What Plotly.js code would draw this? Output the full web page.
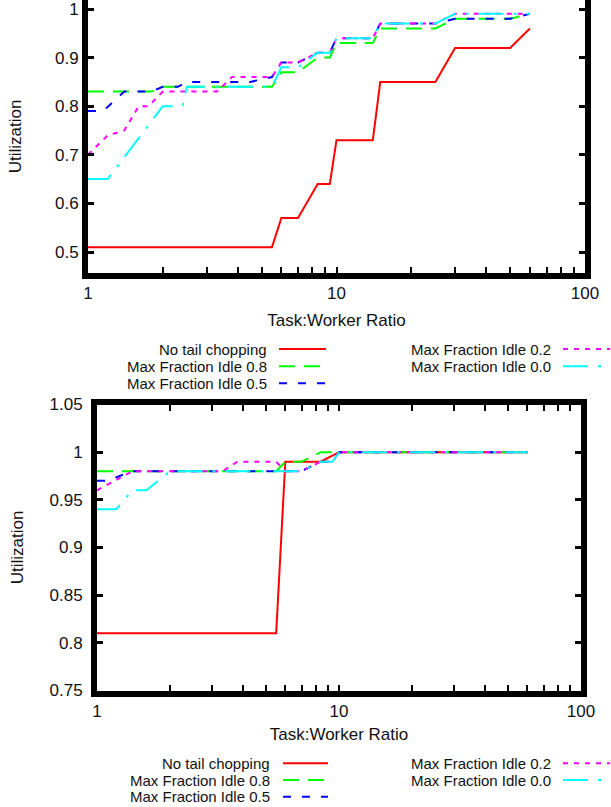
<!DOCTYPE html>
<html><head><meta charset="utf-8">
<script src="https://cdn.plot.ly/plotly-3.0.1.min.js"></script>
<style>html,body{margin:0;padding:0;background:#fff;} #chart{width:611px;height:807px;}</style>
</head><body><div id="chart"></div>
<script>
// ---------- data ----------
const seriesNames = ["No tail chopping", "Max Fraction Idle 0.8", "Max Fraction Idle 0.5", "Max Fraction Idle 0.2", "Max Fraction Idle 0.0"];
const xTickVals = [1, 2, 3, 4, 5, 6, 7, 8, 9, 10, 20, 30, 40, 50, 60, 70, 80, 90, 100];
const xTickText = ["1", "", "", "", "", "", "", "", "", "10", "", "", "", "", "", "", "", "", "100"];
const topYTicks = [0.5, 0.6, 0.7, 0.8, 0.9, 1];
const topYTickText = ["0.5", "0.6", "0.7", "0.8", "0.9", "1"];
const botYTicks = [0.75, 0.8, 0.85, 0.9, 0.95, 1, 1.05];
const botYTickText = ["0.75", "0.8", "0.85", "0.9", "0.95", "1", "1.05"];

// top panel
const topNoChopX = [1, 5.5, 6, 7, 8.4, 9.4, 10, 14, 15, 25, 30, 50, 60];
const topNoChopY = [0.51, 0.51, 0.57, 0.57, 0.64, 0.64, 0.73, 0.73, 0.85, 0.85, 0.92, 0.92, 0.96];
const topIdle08X = [1, 1.8, 2, 5.5, 6, 7, 8.4, 9.4, 10, 14, 15, 25, 30, 50, 60];
const topIdle08Y = [0.83, 0.83, 0.84, 0.84, 0.87, 0.87, 0.90, 0.90, 0.93, 0.93, 0.96, 0.96, 0.98, 0.98, 0.99];
const topIdle05X = [1, 1.15, 1.4, 1.8, 2, 2.3, 2.5, 4.5, 5.5, 6, 7, 8.4, 9.4, 10, 14, 15, 25, 30, 50, 60];
const topIdle05Y = [0.79, 0.79, 0.83, 0.83, 0.84, 0.84, 0.85, 0.85, 0.86, 0.89, 0.89, 0.91, 0.91, 0.94, 0.94, 0.97, 0.97, 0.98, 0.98, 0.99];
const topIdle02X = [1, 1.2, 1.4, 1.6, 1.75, 2, 3.3, 3.8, 5.5, 6, 7, 8.4, 9.4, 10, 14, 15, 25, 30, 60];
const topIdle02Y = [0.70, 0.74, 0.75, 0.80, 0.80, 0.83, 0.83, 0.86, 0.86, 0.89, 0.89, 0.91, 0.91, 0.94, 0.94, 0.97, 0.97, 0.99, 0.99];
const topIdle00X = [1, 1.2, 2, 2.4, 2.5, 5.5, 6, 7, 8.4, 9.4, 10, 14, 15, 25, 30, 60];
const topIdle00Y = [0.65, 0.65, 0.80, 0.80, 0.84, 0.84, 0.88, 0.88, 0.91, 0.91, 0.94, 0.94, 0.97, 0.97, 0.99, 0.99];

// bottom panel
const botNoChopX = [1, 5.5, 6, 8.4, 10, 60];
const botNoChopY = [0.81, 0.81, 0.99, 0.99, 1.0, 1.0];
const botIdle08X = [1, 5.5, 6, 7, 8.4, 60];
const botIdle08Y = [0.98, 0.98, 0.99, 0.99, 1.0, 1.0];
const botIdle05X = [1, 1.1, 1.4, 7, 8.4, 9.4, 10, 60];
const botIdle05Y = [0.97, 0.97, 0.98, 0.98, 0.99, 0.99, 1.0, 1.0];
const botIdle02X = [1, 1.4, 3.3, 3.8, 5.5, 6, 7, 8.4, 9.4, 10, 60];
const botIdle02Y = [0.96, 0.98, 0.98, 0.99, 0.99, 0.98, 0.98, 0.99, 0.99, 1.0, 1.0];
const botIdle00X = [1, 1.2, 1.4, 1.6, 2, 7, 8.4, 9.4, 10, 60];
const botIdle00Y = [0.94, 0.94, 0.96, 0.96, 0.98, 0.98, 0.99, 0.99, 1.0, 1.0];

// ---------- styles ----------
const colors = ["#ff0000", "#00ff00", "#0000ff", "#ff00ff", "#00ffff"];
const dashes = ["solid", "16px,9px", "8px,11px", "5px,6px", "25px,10px,3px,10px"];
const W = 611, H = 807;
const font = "Liberation Sans, Arial, Helvetica, sans-serif";

const topSeries = [[topNoChopX, topNoChopY], [topIdle08X, topIdle08Y], [topIdle05X, topIdle05Y], [topIdle02X, topIdle02Y], [topIdle00X, topIdle00Y]];
const botSeries = [[botNoChopX, botNoChopY], [botIdle08X, botIdle08Y], [botIdle05X, botIdle05Y], [botIdle02X, botIdle02Y], [botIdle00X, botIdle00Y]];

const traces = [];
topSeries.forEach((s, i) => traces.push({x: s[0], y: s[1], type: "scatter", mode: "lines", name: seriesNames[i],
  xaxis: "x", yaxis: "y", showlegend: false, line: {color: colors[i], width: 2, dash: dashes[i]}}));
botSeries.forEach((s, i) => traces.push({x: s[0], y: s[1], type: "scatter", mode: "lines", name: seriesNames[i],
  xaxis: "x2", yaxis: "y2", showlegend: false, line: {color: colors[i], width: 2, dash: dashes[i]}}));

const px = v => v / W, py = v => 1 - v / H;

// legend (gnuplot style: text right-aligned, sample to the right)
const annotations = [], shapes = [];
function legend(rows, col1Right, col1Sample, col2Right, col2Sample) {
  const slots = [[0, 0], [0, 1], [0, 2], [1, 0], [1, 1]];
  seriesNames.forEach((n, i) => {
    const [c, r] = slots[i];
    const y = rows[r];
    const tr = c === 0 ? col1Right : col2Right;
    const smp = c === 0 ? col1Sample : col2Sample;
    annotations.push({xref: "paper", yref: "paper", x: px(tr), y: py(y), xanchor: "right", yanchor: "middle",
      text: n, showarrow: false, borderpad: 0, font: {family: font, size: 15, color: "#111"}});
    shapes.push({type: "line", xref: "paper", yref: "paper", x0: px(smp[0]), x1: px(smp[1]), y0: py(y), y1: py(y),
      line: {color: colors[i], width: 2, dash: dashes[i]}});
  });
}
legend([349, 366.3, 383.3], 268, [279, 326], 552, [563, 610]);
legend([763.3, 780, 796.7], 270.7, [283, 328], 552, [563, 610]);

const axFont = {family: font, size: 17, color: "#111"};
function xAxis(domain, mirror, standoff) {
  return {type: "log", domain: domain, range: [0, 2], tickvals: xTickVals, ticktext: xTickText,
    ticks: "inside", ticklen: 6, tickwidth: 2, tickcolor: "#000", showline: true, linewidth: 6, linecolor: "#000",
    mirror: mirror, showgrid: false, zeroline: false, tickfont: axFont,
    title: {text: "Task:Worker Ratio", font: axFont, standoff: standoff}};
}
function yAxis(domain, range, tv, tt, standoff, labelOff) {
  return {domain: domain, range: range, tickvals: tv, ticktext: tt, ticklabeloverflow: "allow", ticklabelstandoff: labelOff,
    ticks: "inside", ticklen: 6, tickwidth: 3, tickcolor: "#000", showline: true, linewidth: 6, linecolor: "#000",
    mirror: "allticks", showgrid: false, zeroline: false, tickfont: axFont,
    title: {text: "Utilization", font: axFont, standoff: standoff}};
}

const layout = {
  width: W, height: H, margin: {l: 0, r: 0, t: 0, b: 0}, paper_bgcolor: "#fff", plot_bgcolor: "#fff",
  showlegend: false, font: {family: font, size: 17, color: "#111"},
  xaxis: Object.assign(xAxis([px(88), px(585)], false, 14), {anchor: "y"}),
  yaxis: Object.assign(yAxis([1 - 273 / H, 1], [0.5 - 21 / 486, 1 + 9 / 486], topYTicks, topYTickText, 31, 0), {anchor: "x"}),
  xaxis2: Object.assign(xAxis([px(97), px(581)], "allticks", 10), {anchor: "y2"}),
  yaxis2: Object.assign(yAxis([1 - 690.5 / H, 1 - 404.5 / H], [0.75, 1.05], botYTicks, botYTickText, 24, 5), {anchor: "x2"}),
  annotations: annotations, shapes: shapes
};
Plotly.newPlot("chart", traces, layout, {displayModeBar: false, staticPlot: true});
</script>
</body></html>
